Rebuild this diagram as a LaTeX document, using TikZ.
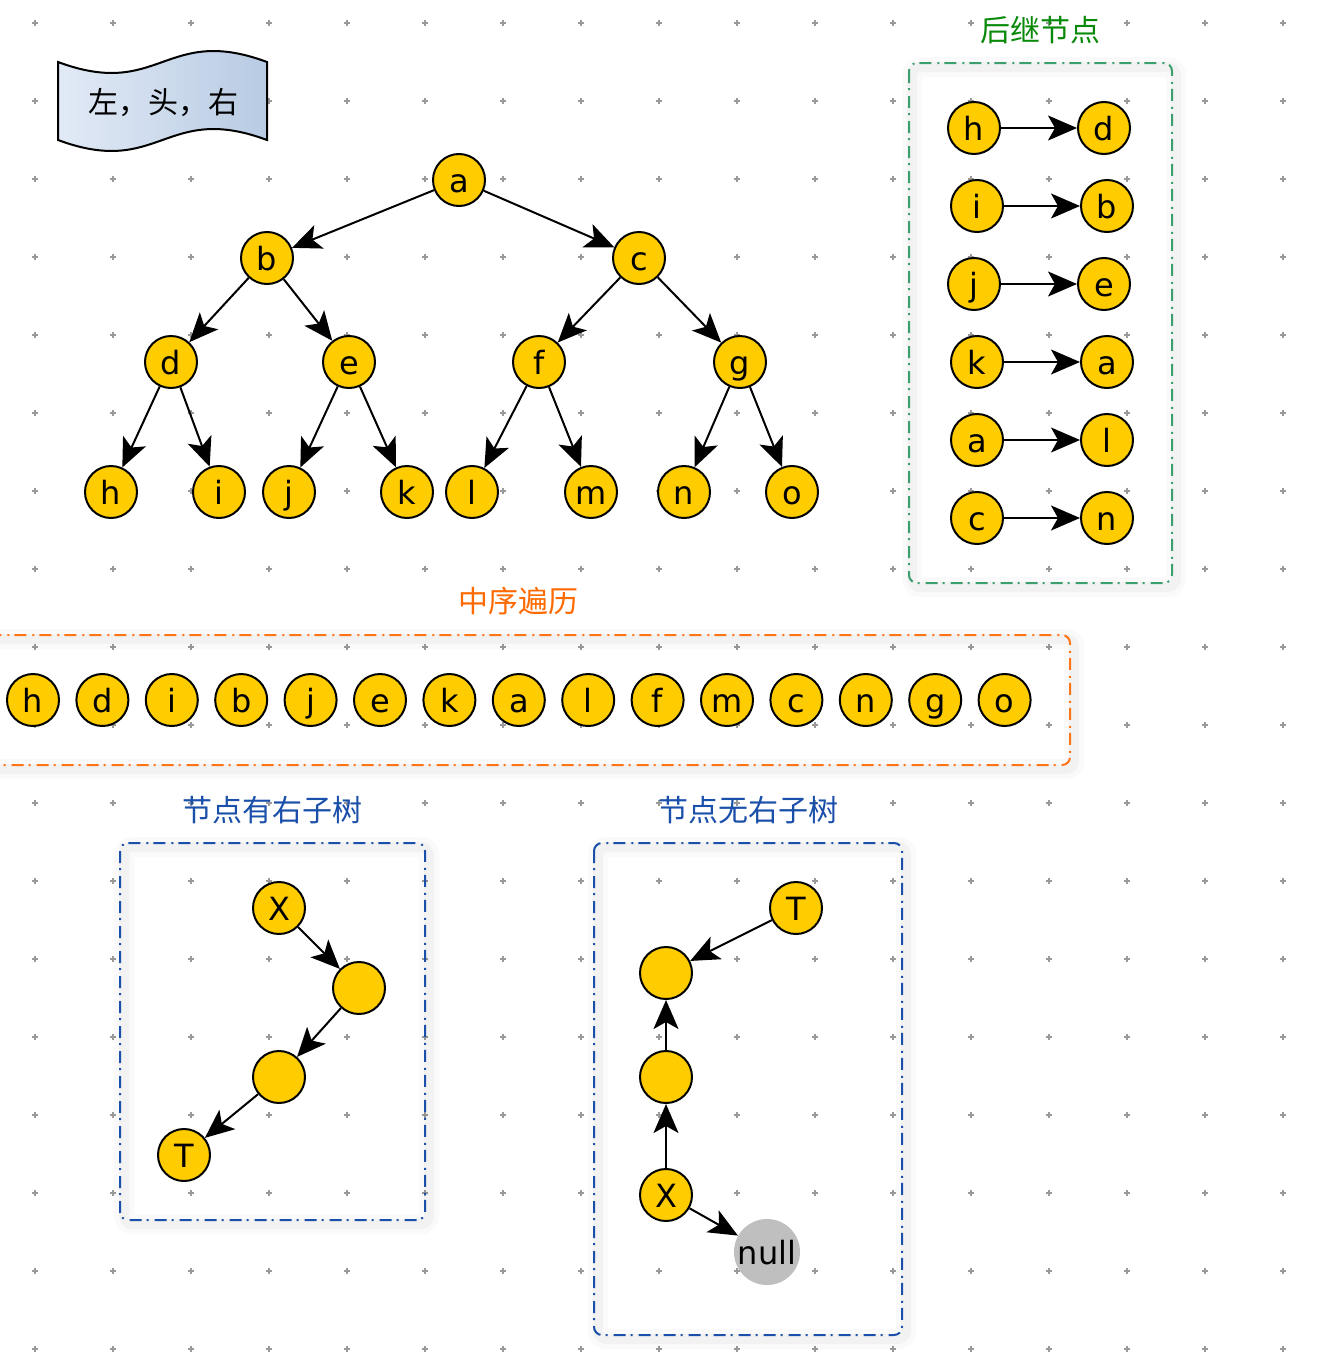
\documentclass[tikz,border=0pt]{standalone}
\usepackage{fontspec}
\setmainfont{DejaVu Sans}
\newfontfamily\cjk{Noto Sans CJK SC}
\usetikzlibrary{arrows.meta}
\definecolor{ycol}{HTML}{FFCC00}
\definecolor{orng}{HTML}{FF7417}
\definecolor{orngt}{HTML}{FF6A00}
\definecolor{grnt}{HTML}{0A8A0A}
\definecolor{grnb}{HTML}{3C9F6E}
\definecolor{blu}{HTML}{1A4FAA}
\definecolor{plus}{HTML}{9A9A9A}
\definecolor{tapeL}{HTML}{E2EAF6}
\definecolor{tapeR}{HTML}{B8CBE3}
\tikzset{
  nd/.style={circle, draw=black, line width=1pt, fill=ycol, minimum size=26pt, inner sep=0pt,
    text height=12pt, text depth=0pt,
    font=\fontsize{16pt}{19pt}\selectfont},
  nullnd/.style={circle, fill=black!25, minimum size=33pt, inner sep=0pt,
    text height=12pt, text depth=0pt,
    font=\fontsize{16pt}{19pt}\selectfont},
  arr/.style={line width=1pt, -{Stealth[length=14.5pt,width=12.5pt,inset=3.5pt]}},
  ddash/.style={line width=1pt, dash pattern=on 6pt off 2.5pt on 1pt off 3pt, rounded corners=4pt},
  shadowbox/.style={line width=5pt, draw=black, draw opacity=0.03, rounded corners=4pt},
  ttl/.style={font=\cjk\fontsize{15pt}{18pt}\selectfont, inner sep=0pt},
}
\begin{document}
\begin{tikzpicture}[x=0.5pt,y=-0.5pt]
\useasboundingbox (0,0) rectangle (1320,1360);
\fill[white] (0,0) rectangle (1320,1360);
% grid crosses
\foreach \i in {0,...,16}{
  \foreach \j in {0,...,17}{
    \draw[plus, line width=0.6pt] ({35+78*\i-3},{23+78*\j}) -- ++(6,0)
      ({35+78*\i},{23+78*\j-3}) -- ++(0,6);
  }
}
% box shadows
\draw[shadowbox] (912,67) rectangle (1176,587);
\draw[shadowbox] (-20,639) rectangle (1074,769);
\draw[shadowbox] (124,847) rectangle (429,1224);
\draw[shadowbox] (598,847) rectangle (906,1339);
\draw[shadowbox, line width=10pt, draw opacity=0.02] (912,67) rectangle (1176,587);
\draw[shadowbox, line width=10pt, draw opacity=0.02] (-20,639) rectangle (1074,769);
\draw[shadowbox, line width=10pt, draw opacity=0.02] (124,847) rectangle (429,1224);
\draw[shadowbox, line width=10pt, draw opacity=0.02] (598,847) rectangle (906,1339);

% banner
\path[left color=tapeL, right color=tapeR, draw=black, line width=1pt]
  (58,62) .. controls (160,100) and (165,24) .. (267,62) -- (267,140)
  .. controls (165,102) and (160,178) .. (58,140) -- cycle;
\node[ttl] (banner) at (163,103) {左，头，右};

% tree
\node[nd] (a) at (459,180) {a};
\node[nd] (b) at (267,258) {b};
\node[nd] (c) at (639,258) {c};
\node[nd] (d) at (171,362) {d};
\node[nd] (e) at (349,362) {e};
\node[nd] (f) at (539,362) {f};
\node[nd] (g) at (740,362) {g};
\node[nd] (h) at (111,492) {h};
\node[nd] (i) at (219,492) {i};
\node[nd] (j) at (289,492) {j};
\node[nd] (k) at (407,492) {k};
\node[nd] (l) at (472,492) {l};
\node[nd] (m) at (591,492) {m};
\node[nd] (n) at (684,492) {n};
\node[nd] (o) at (792,492) {o};
\foreach \p/\q in {a/b,a/c,b/d,b/e,c/f,c/g,d/h,d/i,e/j,e/k,f/l,f/m,g/n,g/o}
  \draw[arr] (\p) -- (\q);

% successor box
\node[ttl, text=grnt] (t1) at (1040,30) {后继节点};
\draw[ddash, draw=grnb] (909,63) rectangle (1172,583);
\node[nd] (s1a) at (974,128) {h}; \node[nd] (s1b) at (1104,128) {d};
\node[nd] (s2a) at (977,206) {i}; \node[nd] (s2b) at (1107,206) {b};
\node[nd] (s3a) at (974,284) {j}; \node[nd] (s3b) at (1104,284) {e};
\node[nd] (s4a) at (977,362) {k}; \node[nd] (s4b) at (1107,362) {a};
\node[nd] (s5a) at (977,440) {a}; \node[nd] (s5b) at (1107,440) {l};
\node[nd] (s6a) at (977,518) {c}; \node[nd] (s6b) at (1107,518) {n};
\foreach \r in {1,...,6}
  \draw[arr] (s\r a) -- (s\r b);

% inorder box
\node[ttl, text=orngt] (t2) at (518,601) {中序遍历};
\draw[ddash, draw=orng] (-20,635) rectangle (1070,765);
\foreach \t [count=\c from 0] in {h,d,i,b,j,e,k,a,l,f,m,c,n,g,o}
  \node[nd] (io\c) at ({33+69.4*\c},700) {\t};

% has right subtree
\node[ttl, text=blu] (t3) at (272,810) {节点有右子树};
\draw[ddash, draw=blu] (120,843) rectangle (425,1220);
\node[nd] (x1) at (279,908) {X};
\node[nd] (p1) at (359,988) {};
\node[nd] (p2) at (279,1077) {};
\node[nd] (t1n) at (184,1155) {T};
\draw[arr] (x1) -- (p1);
\draw[arr] (p1) -- (p2);
\draw[arr] (p2) -- (t1n);

% no right subtree
\node[ttl, text=blu] (t4) at (748,810) {节点无右子树};
\draw[ddash, draw=blu] (594,843) rectangle (902,1335);
\node[nd] (t2n) at (796,908) {T};
\node[nd] (q1) at (666,973) {};
\node[nd] (q2) at (666,1077) {};
\node[nd] (x2) at (666,1195) {X};
\node[nullnd] (nul) at (767,1252) {null};
\draw[arr] (t2n) -- (q1);
\draw[arr] (q2) -- (q1);
\draw[arr] (x2) -- (q2);
\draw[arr] (x2) -- (nul);
\end{tikzpicture}
\end{document}
